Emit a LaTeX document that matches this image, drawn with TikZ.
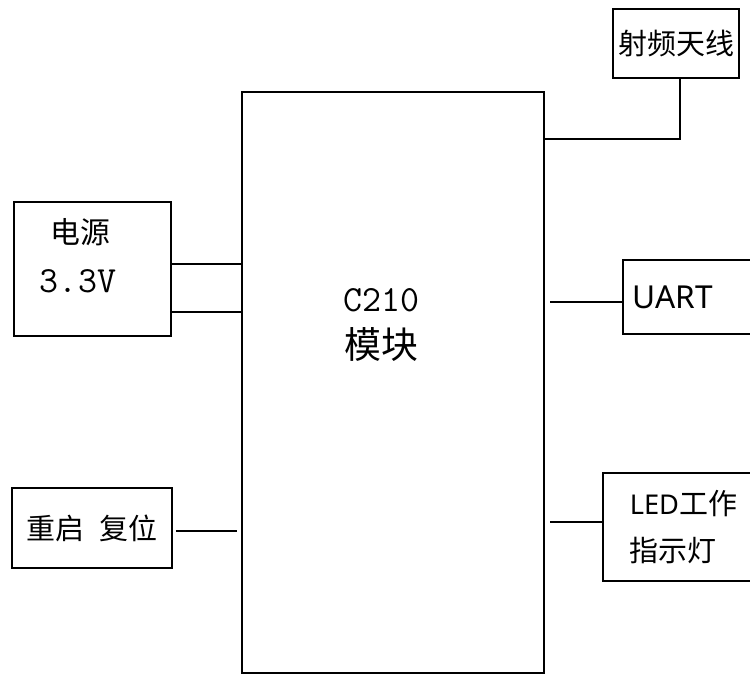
\documentclass[tikz,border=0pt]{standalone}
\usepackage{fontspec}
\setmainfont{Noto Sans CJK SC}
\newfontfamily\latinsans{Noto Sans}
\usetikzlibrary{calc, positioning}

\begin{document}
\begin{tikzpicture}[
    x=0.02cm, y=-0.02cm,
    block/.style={rectangle, draw=black, line width=0.9pt, inner sep=0pt, font=\fontsize{16.5}{20}\selectfont},
    txt/.style={inner sep=0pt, align=center, font=\fontsize{16.5}{20}\selectfont},
    wire/.style={draw=black, line width=0.9pt}
]

\useasboundingbox (0,0) rectangle (750,675);
\clip (0,0) rectangle (750,675);

% Module
\node (main) [block, minimum width=6.04cm, minimum height=11.62cm] at (393,382.5) {};
\node (mainText) [txt, font=\fontsize{21}{27.2}\selectfont] at (381,325) {{\ttfamily C210}\\模块};

% Left side
\node (power) [block, minimum width=3.14cm, minimum height=2.68cm] at (92.5,269) {};
\node (powerName) [txt, font=\fontsize{17}{20}\selectfont] at (80,232) {电源};
\node (powerVolt) [txt, font=\ttfamily\fontsize{21}{24}\selectfont] at (78,281) {3.3V};
\node (reset) [block, minimum width=3.2cm, minimum height=1.6cm] at (92,528) {重启\hspace{0.5em}复位};

% Right side
\node (antenna) [block, minimum width=2.52cm, minimum height=1.38cm] at (676,43.5) {射频天线};
\node (uart) [block, anchor=west, minimum height=1.48cm, text width=2.8cm, inner xsep=0.2cm, align=left, font=\latinsans\fontsize{18}{20}\selectfont] at (622,297) {UART};
\node (led) [block, anchor=west, minimum height=2.16cm, text width=2.6cm, inner xsep=0.54cm, align=left, font=\fontsize{16.5}{27.2}\selectfont] at (602,527) {{\latinsans\fontsize{15.5}{27.2}\selectfont LED}工作\\指示灯};

% Connection points
\coordinate (pwrA) at ($(power.east)+(0,-5)$);
\coordinate (pwrB) at ($(power.east)+(0,43)$);
\coordinate (rstOut) at ($(reset.east)+(0,3)$);
\coordinate (uartIn) at ($(uart.west)+(0,5)$);
\coordinate (ledIn) at ($(led.west)+(0,-5)$);

% Lines
\draw[wire] (antenna.south) ++(4,0) |- ($(main.north east)+(0,48)$);
\draw[wire] (pwrA) -- (pwrA -| main.west);
\draw[wire] (pwrB) -- (pwrB -| main.west);
\draw[wire, shorten <=0.06cm, shorten >=0.08cm] (rstOut) -- (rstOut -| main.west);
\draw[wire] (uartIn) -- ($(uartIn -| main.east)+(5,0)$);
\draw[wire] (ledIn) -- ($(ledIn -| main.east)+(5,0)$);

\end{tikzpicture}
\end{document}
